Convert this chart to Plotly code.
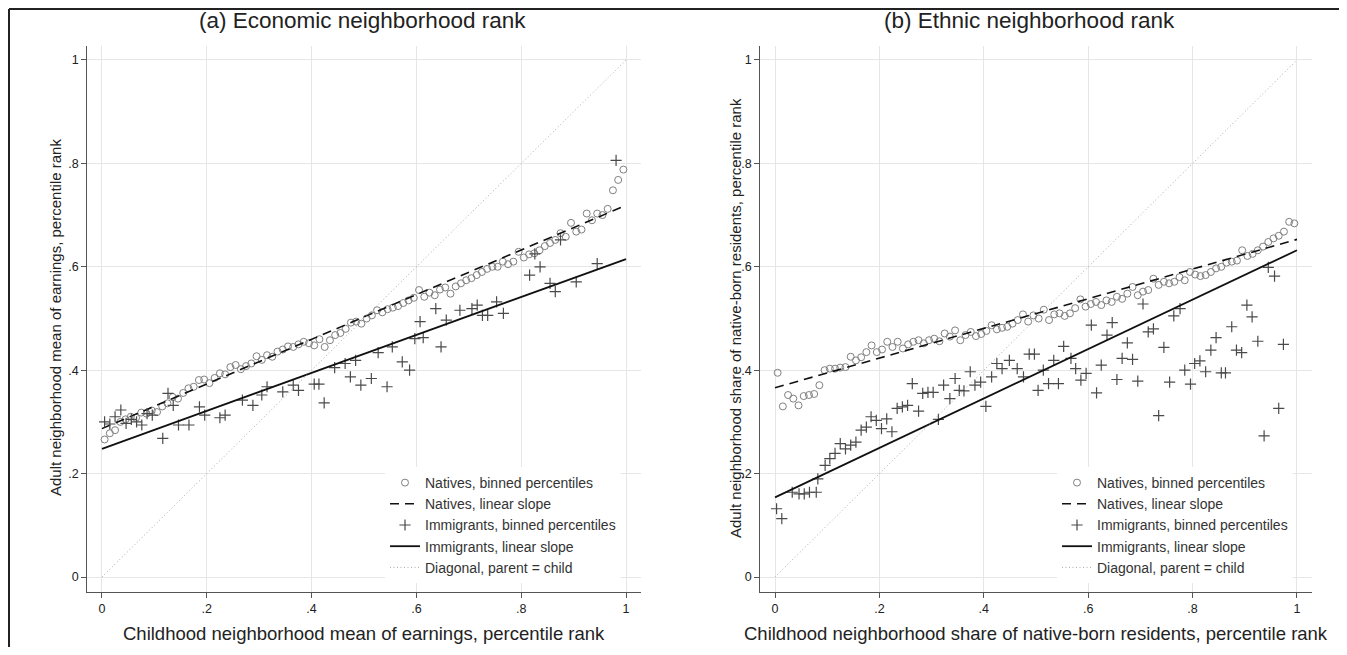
import plotly.graph_objects as go

# ---------------- Data ----------------
# Panel (a): economic neighborhood rank
econ_nat_x = [(k + 0.5) / 100 for k in range(100)]
econ_nat_y = [0.266, 0.278, 0.284, 0.300, 0.305, 0.310, 0.308, 0.318, 0.316, 0.322,
              0.319, 0.330, 0.336, 0.348, 0.345, 0.356, 0.365, 0.368, 0.381, 0.382,
              0.375, 0.385, 0.394, 0.392, 0.406, 0.410, 0.402, 0.408, 0.413, 0.427,
              0.420, 0.429, 0.426, 0.436, 0.440, 0.446, 0.445, 0.450, 0.455, 0.452,
              0.448, 0.460, 0.445, 0.458, 0.468, 0.472, 0.480, 0.492, 0.494, 0.490,
              0.500, 0.506, 0.516, 0.512, 0.518, 0.521, 0.524, 0.530, 0.535, 0.540,
              0.555, 0.542, 0.550, 0.545, 0.556, 0.560, 0.548, 0.562, 0.568, 0.574,
              0.578, 0.584, 0.590, 0.596, 0.600, 0.600, 0.610, 0.605, 0.610, 0.629,
              0.618, 0.624, 0.626, 0.632, 0.640, 0.646, 0.652, 0.665, 0.658, 0.685,
              0.668, 0.672, 0.703, 0.690, 0.703, 0.700, 0.712, 0.748, 0.768, 0.788]

econ_imm_x = [0.005, 0.015, 0.025, 0.036, 0.046, 0.056, 0.066, 0.076, 0.086, 0.096,
              0.116, 0.126, 0.136, 0.146, 0.166, 0.186, 0.196, 0.225, 0.235, 0.268,
              0.288, 0.305, 0.315, 0.345, 0.365, 0.375, 0.405, 0.414, 0.424, 0.444,
              0.464, 0.474, 0.484, 0.494, 0.514, 0.527, 0.544, 0.554, 0.573, 0.587,
              0.597, 0.607, 0.613, 0.637, 0.647, 0.657, 0.683, 0.706, 0.716, 0.726,
              0.736, 0.753, 0.766, 0.816, 0.826, 0.836, 0.855, 0.865, 0.875, 0.905,
              0.945, 0.981]
econ_imm_y = [0.300, 0.296, 0.310, 0.323, 0.297, 0.305, 0.300, 0.294, 0.316, 0.313,
              0.268, 0.355, 0.332, 0.294, 0.294, 0.329, 0.313, 0.308, 0.313, 0.342,
              0.332, 0.352, 0.368, 0.358, 0.371, 0.361, 0.373, 0.373, 0.337, 0.405,
              0.413, 0.387, 0.419, 0.371, 0.384, 0.434, 0.368, 0.445, 0.416, 0.400,
              0.461, 0.494, 0.463, 0.519, 0.445, 0.497, 0.516, 0.519, 0.526, 0.506,
              0.506, 0.532, 0.510, 0.584, 0.625, 0.600, 0.568, 0.552, 0.652, 0.571,
              0.606, 0.806]

econ_nat_fit = (0.287, 0.432)   # intercept, slope
econ_imm_fit = (0.248, 0.367)

# Panel (b): ethnic neighborhood rank
eth_nat_x = [(k + 0.5) / 100 for k in range(100)]
eth_nat_y = [0.395, 0.330, 0.352, 0.345, 0.332, 0.350, 0.352, 0.354, 0.371, 0.400,
             0.403, 0.403, 0.405, 0.406, 0.426, 0.419, 0.425, 0.435, 0.448, 0.435,
             0.440, 0.455, 0.445, 0.455, 0.442, 0.450, 0.455, 0.458, 0.452, 0.458,
             0.461, 0.456, 0.471, 0.465, 0.477, 0.458, 0.468, 0.474, 0.466, 0.470,
             0.476, 0.487, 0.479, 0.482, 0.484, 0.490, 0.497, 0.508, 0.494, 0.506,
             0.500, 0.517, 0.497, 0.508, 0.510, 0.505, 0.510, 0.520, 0.537, 0.523,
             0.528, 0.532, 0.526, 0.535, 0.532, 0.542, 0.538, 0.548, 0.561, 0.545,
             0.552, 0.555, 0.577, 0.565, 0.571, 0.568, 0.571, 0.580, 0.574, 0.590,
             0.585, 0.582, 0.584, 0.590, 0.597, 0.600, 0.608, 0.610, 0.612, 0.632,
             0.621, 0.625, 0.632, 0.639, 0.648, 0.655, 0.660, 0.668, 0.687, 0.684]

eth_imm_x = [0.003, 0.013, 0.033, 0.046, 0.056, 0.066, 0.079, 0.082, 0.096, 0.105,
             0.115, 0.125, 0.135, 0.145, 0.155, 0.165, 0.175, 0.184, 0.194, 0.204,
             0.214, 0.224, 0.234, 0.244, 0.254, 0.263, 0.275, 0.283, 0.293, 0.303,
             0.313, 0.323, 0.335, 0.345, 0.353, 0.362, 0.374, 0.383, 0.394, 0.404,
             0.415, 0.425, 0.435, 0.449, 0.464, 0.476, 0.487, 0.497, 0.504, 0.514,
             0.524, 0.534, 0.543, 0.553, 0.567, 0.576, 0.586, 0.596, 0.606, 0.616,
             0.625, 0.636, 0.646, 0.655, 0.665, 0.675, 0.685, 0.695, 0.705, 0.715,
             0.725, 0.735, 0.745, 0.756, 0.764, 0.776, 0.785, 0.796, 0.804, 0.814,
             0.825, 0.835, 0.845, 0.855, 0.863, 0.875, 0.884, 0.894, 0.904, 0.914,
             0.925, 0.937, 0.945, 0.957, 0.965, 0.974]
eth_imm_y = [0.132, 0.113, 0.164, 0.161, 0.161, 0.164, 0.164, 0.190, 0.216, 0.229,
             0.239, 0.258, 0.248, 0.255, 0.261, 0.284, 0.290, 0.310, 0.303, 0.287,
             0.306, 0.281, 0.326, 0.329, 0.332, 0.374, 0.321, 0.355, 0.357, 0.357,
             0.305, 0.371, 0.345, 0.384, 0.361, 0.360, 0.397, 0.371, 0.377, 0.330,
             0.387, 0.413, 0.403, 0.419, 0.403, 0.387, 0.431, 0.431, 0.361, 0.400,
             0.374, 0.419, 0.374, 0.446, 0.423, 0.403, 0.381, 0.394, 0.487, 0.356,
             0.410, 0.468, 0.492, 0.382, 0.423, 0.453, 0.421, 0.379, 0.528, 0.474,
             0.480, 0.312, 0.444, 0.377, 0.505, 0.519, 0.400, 0.373, 0.413, 0.418,
             0.397, 0.439, 0.463, 0.395, 0.395, 0.484, 0.439, 0.434, 0.526, 0.503,
             0.456, 0.273, 0.599, 0.582, 0.326, 0.450]

eth_nat_fit = (0.366, 0.287)
eth_imm_fit = (0.154, 0.478)

tick_vals = [0, 0.2, 0.4, 0.6, 0.8, 1]
tick_text = ["0", ".2", ".4", ".6", ".8", "1"]
legend_names = ["Natives, binned percentiles", "Natives, linear slope",
                "Immigrants, binned percentiles", "Immigrants, linear slope",
                "Diagonal, parent = child"]
panel_titles = ["(a) Economic neighborhood rank", "(b) Ethnic neighborhood rank"]
x_titles = ["Childhood neighborhood mean of earnings, percentile rank",
            "Childhood neighborhood share of native-born residents, percentile rank"]
y_titles = ["Adult neighborhood mean of earnings, percentile rank",
            "Adult neighborhood share of native-born residents, percentile rank"]

# ---------------- Figure ----------------
# page body has an 8px margin: figure fills the rest of the 1347x655 window
OFF = 8
W, H = 1347 - 2 * OFF, 655 - 2 * OFF
def PX(x):  # page x pixel -> paper fraction
    return (x - OFF) / W
def PY(y):  # page y pixel (from top) -> paper fraction
    return 1 - (y - OFF) / H

FONT = "Liberation Sans, Arial, Helvetica, sans-serif"
fig = go.Figure()

line_x = [0, 1]
panels = [
    (econ_nat_x, econ_nat_y, econ_imm_x, econ_imm_y, econ_nat_fit, econ_imm_fit, "x", "y", "legend"),
    (eth_nat_x, eth_nat_y, eth_imm_x, eth_imm_y, eth_nat_fit, eth_imm_fit, "x2", "y2", "legend2"),
]
for nx, ny, ix, iy, nfit, ifit, xa, ya, lg in panels:
    fig.add_trace(go.Scatter(x=nx, y=ny, mode="markers", name=legend_names[0],
                             xaxis=xa, yaxis=ya, legend=lg,
                             marker=dict(symbol="circle-open", size=7, color="#808080",
                                         line=dict(width=1, color="#808080"))))
    fig.add_trace(go.Scatter(x=line_x, y=[nfit[0] + nfit[1] * v for v in line_x], mode="lines",
                             name=legend_names[1], xaxis=xa, yaxis=ya, legend=lg,
                             line=dict(color="#111111", width=1.6, dash="9px,6px")))
    fig.add_trace(go.Scatter(x=ix, y=iy, mode="markers", name=legend_names[2],
                             xaxis=xa, yaxis=ya, legend=lg,
                             marker=dict(symbol="cross-thin-open", size=8, color="#4a4a4a",
                                         line=dict(width=1.2, color="#4a4a4a"))))
    fig.add_trace(go.Scatter(x=line_x, y=[ifit[0] + ifit[1] * v for v in line_x], mode="lines",
                             name=legend_names[3], xaxis=xa, yaxis=ya, legend=lg,
                             line=dict(color="#111111", width=1.8)))
    fig.add_trace(go.Scatter(x=line_x, y=line_x, mode="lines", name=legend_names[4],
                             xaxis=xa, yaxis=ya, legend=lg,
                             line=dict(color="#a8a8a8", width=1, dash="1px,2.5px")))

rng = [-0.028, 1.028]
ydom = [PY(591.5), PY(45.5)]
axis_common = dict(range=rng, tickvals=tick_vals, ticktext=tick_text, showgrid=True,
                   gridcolor="#e6e6e6", gridwidth=1, zeroline=False, showline=True,
                   linecolor="#555555", linewidth=1.3, ticks="outside", ticklen=5,
                   tickcolor="#555555", tickfont=dict(family=FONT, size=12.5, color="#222222"),
                   fixedrange=True)
fig.update_layout(
    width=W, height=H, margin=dict(l=0, r=0, t=0, b=0),
    paper_bgcolor="white", plot_bgcolor="white",
    xaxis=dict(domain=[PX(87.3), PX(640.7)], anchor="y", **axis_common),
    yaxis=dict(domain=ydom, anchor="x", **axis_common),
    xaxis2=dict(domain=[PX(760.4), PX(1311.6)], anchor="y2", **axis_common),
    yaxis2=dict(domain=ydom, anchor="x2", **axis_common),
    showlegend=True,
)
legend_common = dict(bgcolor="white", borderwidth=0, font=dict(family=FONT, size=14, color="#333333"),
                     xanchor="left", yanchor="bottom", itemwidth=30, tracegroupgap=0,
                     traceorder="normal")
fig.update_layout(
    legend=dict(x=PX(385), y=PY(583), **legend_common),
    legend2=dict(x=PX(1057), y=PY(583), **legend_common),
)

ann = []
for cx, t in zip([362, 1030], panel_titles):
    ann.append(dict(x=PX(cx), y=PY(20), xref="paper", yref="paper", text=t, showarrow=False,
                    xanchor="center", yanchor="middle", font=dict(family=FONT, size=22.5, color="#222222")))
for cx, t in zip([364, 1036], x_titles):
    ann.append(dict(x=PX(cx), y=PY(633), xref="paper", yref="paper", text=t, showarrow=False,
                    xanchor="center", yanchor="middle", font=dict(family=FONT, size=18.5, color="#222222")))
for cx, t in zip([55, 735], y_titles):
    ann.append(dict(x=PX(cx), y=PY(318), xref="paper", yref="paper", text=t, showarrow=False,
                    textangle=-90, xanchor="center", yanchor="middle",
                    font=dict(family=FONT, size=15, color="#222222")))
fig.update_layout(annotations=ann)

# outer frame (top and left edges)
fig.add_shape(type="line", xref="paper", yref="paper", x0=PX(9), x1=1.0, y0=0.9985, y1=0.9985,
              line=dict(color="#222222", width=2))
fig.add_shape(type="line", xref="paper", yref="paper", x0=PX(9), x1=PX(9), y0=0.0, y1=0.9985,
              line=dict(color="#222222", width=2))

fig.write_html("out.html")
